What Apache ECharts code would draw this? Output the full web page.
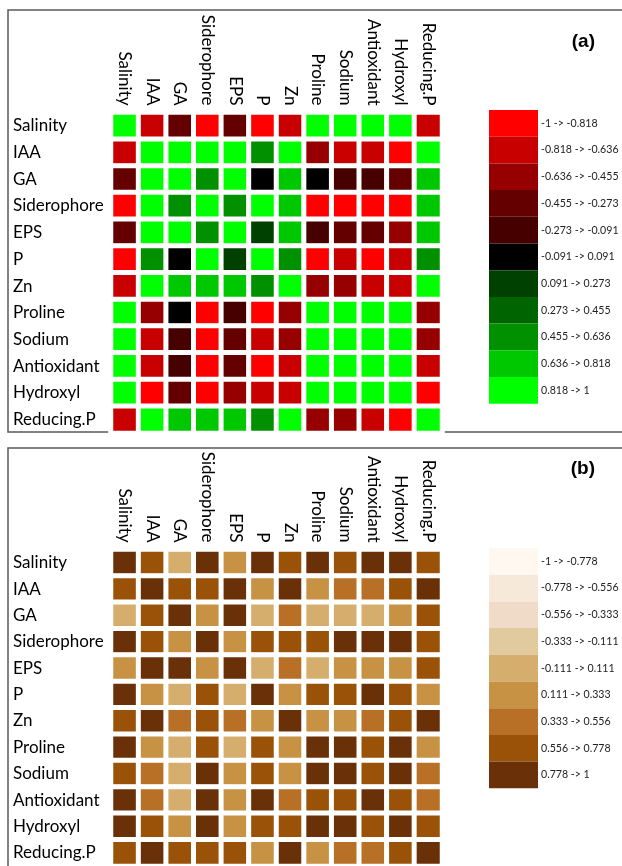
<!DOCTYPE html>
<html>
<head>
<meta charset="utf-8">
<script src="https://cdn.jsdelivr.net/npm/echarts@6.0.0/dist/echarts.min.js"></script>
<style>
    html, body { margin: 0; padding: 0; background: #fff; }
    #main { width: 622px; height: 866px; }
</style>
</head>
<body>
<div id="main"></div>
<script>
var labels = ['Salinity', 'IAA', 'GA', 'Siderophore', 'EPS', 'P', 'Zn', 'Proline', 'Sodium', 'Antioxidant', 'Hydroxyl', 'Reducing.P'];

// (a) correlation matrix, row by row
var corrA = [
    [1, -0.73, -0.36, -0.9, -0.36, -0.9, -0.73, 0.9, 0.9, 0.9, 0.9, -0.73],
    [-0.73, 1, 0.9, 0.9, 0.9, 0.55, 0.9, -0.55, -0.73, -0.73, -0.9, 0.9],
    [-0.36, 0.9, 1, 0.55, 0.9, 0, 0.73, 0, -0.18, -0.18, -0.36, 0.73],
    [-0.9, 0.9, 0.55, 1, 0.55, 0.9, 0.73, -0.9, -0.9, -0.9, -0.9, 0.73],
    [-0.36, 0.9, 0.9, 0.55, 1, 0.18, 0.73, -0.18, -0.36, -0.36, -0.55, 0.73],
    [-0.9, 0.55, 0, 0.9, 0.18, 1, 0.55, -0.9, -0.73, -0.9, -0.73, 0.55],
    [-0.73, 0.9, 0.73, 0.73, 0.73, 0.55, 1, -0.55, -0.55, -0.73, -0.73, 0.9],
    [0.9, -0.55, 0, -0.9, -0.18, -0.9, -0.55, 1, 0.9, 0.9, 0.9, -0.55],
    [0.9, -0.73, -0.18, -0.9, -0.36, -0.73, -0.55, 0.9, 1, 0.9, 0.9, -0.55],
    [0.9, -0.73, -0.18, -0.9, -0.36, -0.9, -0.73, 0.9, 0.9, 1, 0.9, -0.73],
    [0.9, -0.9, -0.36, -0.9, -0.55, -0.73, -0.73, 0.9, 0.9, 0.9, 1, -0.9],
    [-0.73, 0.9, 0.73, 0.73, 0.73, 0.55, 0.9, -0.55, -0.55, -0.73, -0.9, 1]
];

// (b) matrix
var corrB = [
    [1, 0.67, 0, 0.89, 0.22, 0.89, 0.67, 0.89, 0.67, 0.89, 0.89, 0.67],
    [0.67, 1, 0.67, 0.67, 0.89, 0.22, 0.89, 0.22, 0.44, 0.44, 0.67, 0.89],
    [0, 0.67, 1, 0.22, 0.89, 0, 0.44, 0, 0, 0, 0.22, 0.67],
    [0.89, 0.67, 0.22, 1, 0.22, 0.67, 0.67, 0.67, 0.89, 0.89, 0.89, 0.67],
    [0.22, 0.89, 0.89, 0.22, 1, 0, 0.44, 0, 0.22, 0.22, 0.22, 0.67],
    [0.89, 0.22, 0, 0.67, 0, 1, 0.22, 0.67, 0.67, 0.89, 0.67, 0.22],
    [0.67, 0.89, 0.44, 0.67, 0.44, 0.22, 1, 0.22, 0.22, 0.44, 0.67, 0.89],
    [0.89, 0.22, 0, 0.67, 0, 0.67, 0.22, 1, 0.89, 0.67, 0.89, 0.22],
    [0.67, 0.44, 0, 0.89, 0.22, 0.67, 0.22, 0.89, 1, 0.67, 0.89, 0.44],
    [0.89, 0.44, 0, 0.89, 0.22, 0.89, 0.44, 0.67, 0.67, 1, 0.67, 0.44],
    [0.89, 0.67, 0.22, 0.89, 0.22, 0.67, 0.67, 0.89, 0.89, 0.67, 1, 0.67],
    [0.67, 0.89, 0.67, 0.67, 0.67, 0.22, 0.89, 0.22, 0.44, 0.44, 0.67, 1]
];

var breaksA = [-1, -0.818, -0.636, -0.455, -0.273, -0.091, 0.091, 0.273, 0.455, 0.636, 0.818, 1];
var colorsA = ['#ff0000', '#c80000', '#960000', '#640000', '#460000', '#000000', '#004000', '#006400', '#009000', '#00c800', '#00ff00'];

var breaksB = [-1, -0.778, -0.556, -0.333, -0.111, 0.111, 0.333, 0.556, 0.778, 1];
var colorsB = ['#fff8f0', '#f6e9da', '#efdbc7', '#e2ca9f', '#d5ae6e', '#c79244', '#b77025', '#9a5209', '#6a3008'];

function toCells(m) {
    var out = [];
    for (var i = 0; i < m.length; i++) {
        for (var j = 0; j < m[i].length; j++) {
            out.push([j, i, m[i][j]]);
        }
    }
    return out;
}

function makePieces(breaks, colors) {
    var p = [];
    for (var k = 0; k < colors.length; k++) {
        var item = { gte: breaks[k], label: breaks[k] + ' -> ' + breaks[k + 1], color: colors[k] };
        if (k == colors.length - 1) item.lte = breaks[k + 1];
        else item.lt = breaks[k + 1];
        p.push(item);
    }
    return p;
}

var fontName = 'Lato';
var gridTops = [112.5, 549.5];

var xAxes = [], yAxes = [], grids = [];
for (var g = 0; g < 2; g++) {
    grids.push({ left: 111, top: gridTops[g], width: 331, height: 320.4 });
    xAxes.push({
        type: 'category', gridIndex: g, data: labels, position: 'top',
        axisLine: { show: false }, axisTick: { show: false }, splitLine: { show: false },
        axisLabel: { rotate: 90, margin: 7, color: '#000', fontSize: 17, fontFamily: fontName, interval: 0 }
    });
    yAxes.push({
        type: 'category', gridIndex: g, data: labels, inverse: true,
        axisLine: { show: false }, axisTick: { show: false }, splitLine: { show: false },
        axisLabel: { align: 'left', margin: 98, color: '#000', fontSize: 17, fontFamily: fontName, interval: 0 }
    });
}

var legendCommon = {
    type: 'piecewise', orient: 'vertical', left: 489, padding: 0, inverse: true, align: 'left',
    itemWidth: 49, itemHeight: 26.7, itemGap: 0, itemSymbol: 'rect', textGap: 3,
    hoverLink: false, selectedMode: false,
    textStyle: { fontSize: 10.6, fontFamily: fontName, color: '#222' }
};

var option = {
    backgroundColor: '#fff',
    animation: false,
    title: [
        { text: '(a)', right: 22, top: 27, textStyle: { fontSize: 19, fontWeight: 'bold', fontFamily: 'Liberation Sans', color: '#000' } },
        { text: '(b)', right: 22, top: 454, textStyle: { fontSize: 19, fontWeight: 'bold', fontFamily: 'Liberation Sans', color: '#000' } }
    ],
    graphic: [
        { type: 'rect', silent: true, shape: { x: 8, y: 10, width: 700, height: 422 }, style: { fill: null, stroke: '#5a5a5a', lineWidth: 1.5 } },
        { type: 'rect', silent: true, shape: { x: 8, y: 448, width: 700, height: 500 }, style: { fill: null, stroke: '#5a5a5a', lineWidth: 1.5 } }
    ],
    grid: grids,
    xAxis: xAxes,
    yAxis: yAxes,
    visualMap: [
        Object.assign({}, legendCommon, { top: 110, seriesIndex: 0, pieces: makePieces(breaksA, colorsA) }),
        Object.assign({}, legendCommon, { top: 548, seriesIndex: 1, pieces: makePieces(breaksB, colorsB) })
    ],
    series: [
        { type: 'heatmap', xAxisIndex: 0, yAxisIndex: 0, data: toCells(corrA), itemStyle: { borderColor: '#fff', borderWidth: 5 } },
        { type: 'heatmap', xAxisIndex: 1, yAxisIndex: 1, data: toCells(corrB), itemStyle: { borderColor: '#fff', borderWidth: 5 } }
    ]
};

var myChart = echarts.init(document.getElementById('main'));
myChart.setOption(option, true);
</script>
</body>
</html>
